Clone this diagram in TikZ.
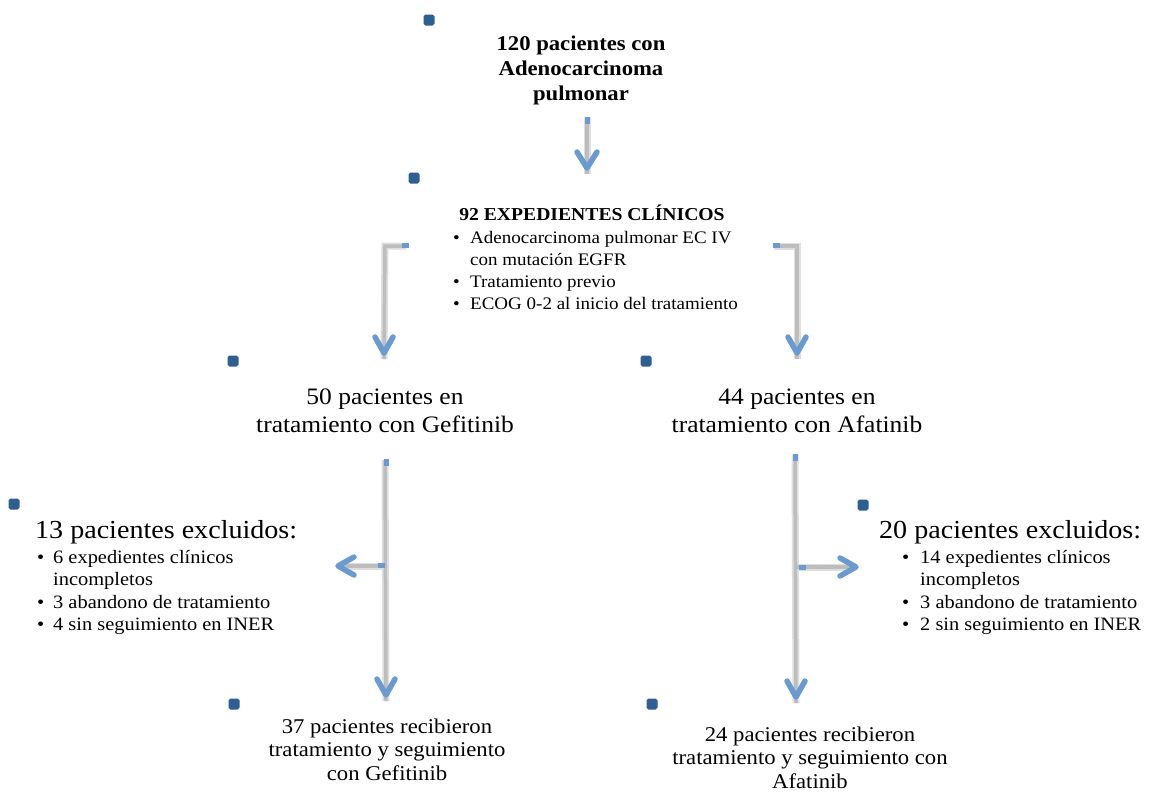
\documentclass[tikz,border=0pt]{standalone}
\usepackage{fontspec}
\setmainfont{Liberation Serif}[FakeStretch=1.08]
\definecolor{sqblue}{HTML}{2D5F93}
\definecolor{arrblue}{HTML}{6A9BD0}
\definecolor{lineg}{HTML}{BDBDBD}
\definecolor{lineg2}{HTML}{DEDEDE}
\tikzset{
  sq/.style={rectangle, fill=sqblue, rounded corners=1.8pt, minimum size=11pt, inner sep=0pt},
  stub/.style={rectangle, fill=arrblue, inner sep=0pt, minimum width=5pt, minimum height=7pt},
  stubh/.style={rectangle, fill=arrblue, inner sep=0pt, minimum width=7pt, minimum height=5pt},
  connsh/.style={draw=lineg2, line width=7pt},
  conn/.style={draw=lineg, line width=3.5pt},
  chev/.style={draw=arrblue, line width=5.5pt, line cap=round, line join=round},
  boldtxt/.style={anchor=base, align=center, inner sep=0pt, font=\fontsize{21}{25}\selectfont\bfseries},
  bigtxt/.style={anchor=base, align=center, inner sep=0pt, font=\fontsize{23.6}{28}\selectfont},
  midtxt/.style={anchor=base, align=center, inner sep=0pt, font=\fontsize{21}{23.5}\selectfont},
  listtxt/.style={anchor=base west, inner sep=0pt, font=\fontsize{17.6}{22.3}\selectfont},
  exltxt/.style={anchor=base west, inner sep=0pt, font=\fontsize{18.9}{22.5}\selectfont},
  headtxt/.style={anchor=base west, inner sep=0pt, font=\fontsize{26}{30}\selectfont}
}
\begin{document}
\begin{tikzpicture}[x=1pt,y=-1pt]
\useasboundingbox[fill=white] (0,0) rectangle (1149,793);

% squares
\node[sq] (s1) at (429,20) {};
\node[sq] (s2) at (414,178) {};
\node[sq] (s3) at (233,361) {};
\node[sq] (s4) at (646,361) {};
\node[sq] (s5) at (14,504) {};
\node[sq] (s6) at (863,505) {};
\node[sq] (s7) at (234,704) {};
\node[sq] (s8) at (652,704) {};

% texts
\node[boldtxt] (t1) at (581,100) {120 pacientes con\\Adenocarcinoma\\pulmonar};
\node[boldtxt, font=\fontsize{18.2}{22}\selectfont\bfseries] (t2) at (592,220) {92 EXPEDIENTES CLÍNICOS};
\node[listtxt] (l2) at (453,243) {\begin{tabular}[t]{@{}p{17pt}@{}l@{}}
\textbullet & Adenocarcinoma pulmonar EC IV\\
 & con mutación EGFR\\
\textbullet & Tratamiento previo\\
\textbullet & ECOG 0-2 al inicio del tratamiento
\end{tabular}};
\node[bigtxt] (g1) at (385,432) {50 pacientes en\\tratamiento con Gefitinib};
\node[bigtxt] (a1) at (797,432) {44 pacientes en\\tratamiento con Afatinib};
\node[headtxt] (e1) at (35,538) {13 pacientes excluidos:};
\node[exltxt] (l1) at (37,563) {\begin{tabular}[t]{@{}p{16pt}@{}l@{}}
\textbullet & 6 expedientes clínicos\\
 & incompletos\\
\textbullet & 3 abandono de tratamiento\\
\textbullet & 4 sin seguimiento en INER
\end{tabular}};
\node[headtxt] (e2) at (879,538) {20 pacientes excluidos:};
\node[exltxt] (l3) at (902,563) {\begin{tabular}[t]{@{}p{18pt}@{}l@{}}
\textbullet & 14 expedientes clínicos\\
 & incompletos\\
\textbullet & 3 abandono de tratamiento\\
\textbullet & 2 sin seguimiento en INER
\end{tabular}};
\node[midtxt] (g2) at (387,780) {37 pacientes recibieron\\tratamiento y seguimiento\\con Gefitinib};
\node[midtxt] (a2) at (810,788) {24 pacientes recibieron\\tratamiento y seguimiento con\\Afatinib};

% connector coordinates
\coordinate (c1s) at (587,117);
\coordinate (c1e) at (587,168);
\coordinate (c2s) at (406,246);
\coordinate (c2k) at (385,246);
\coordinate (c2e) at (384,353);
\coordinate (c3s) at (774,246);
\coordinate (c3k) at (797,246);
\coordinate (c3e) at (797,353);
\coordinate (c4s) at (385,460);
\coordinate (c4e) at (386,695);
\coordinate (c4b) at (385,566);
\coordinate (c4t) at (338,566);
\coordinate (c5s) at (795,455);
\coordinate (c5e) at (796,697);
\coordinate (c5b) at (795,567);
\coordinate (c5t) at (856,567);

% grey lines
\foreach \st in {connsh,conn}{
  \draw[\st] (c1s) -- ([yshift=-6]c1e);
  \draw[\st] (c2s) -- (c2k) -- ([yshift=-6]c2e);
  \draw[\st] (c3s) -- (c3k) -- ([yshift=-6]c3e);
  \draw[\st] (c4s) -- ([yshift=-6]c4e);
  \draw[\st] (c4b) -- ([xshift=6]c4t);
  \draw[\st] (c5s) -- ([yshift=-6]c5e);
  \draw[\st] (c5b) -- ([xshift=-6]c5t);
}

% stubs
\node[stub] (p1) at (587,120) {};
\node[stubh] (p2) at (405,245) {};
\node[stubh] (p3) at (776,245) {};
\node[stub] (p4) at (386,462) {};
\node[stubh] (p5) at (381,565) {};
\node[stub] (p6) at (795,457) {};
\node[stubh] (p7) at (802,567) {};

% chevrons
\draw[chev] (c1e) ++(-10,-16) -- (c1e) -- ++(10,-16);
\draw[chev] (c2e) ++(-9,-16) -- (c2e) -- ++(9,-16);
\draw[chev] (c3e) ++(-9,-16) -- (c3e) -- ++(9,-16);
\draw[chev] (c4e) ++(-9,-16) -- (c4e) -- ++(9,-16);
\draw[chev] (c5e) ++(-9,-16) -- (c5e) -- ++(9,-16);
\draw[chev] (c4t) ++(16,-9) -- (c4t) -- ++(16,9);
\draw[chev] (c5t) ++(-16,-9) -- (c5t) -- ++(-16,9);
\end{tikzpicture}
\end{document}
